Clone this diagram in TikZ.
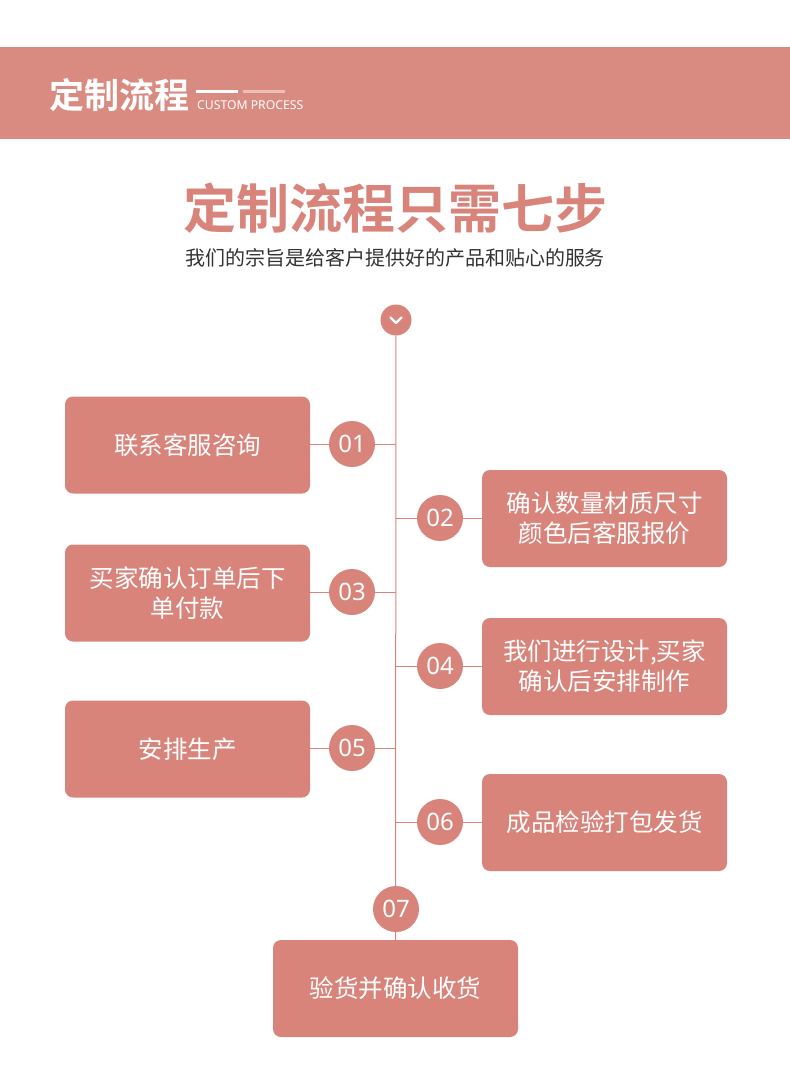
\documentclass[tikz,border=0pt]{standalone}
\usepackage{fontspec}
\newfontfamily\cjk{Noto Sans CJK SC}
\newfontfamily\cjkb{Noto Sans CJK SC}[UprightFont=* Bold]
\newfontfamily\lat{Noto Sans}
\definecolor{band}{HTML}{D98A81}
\definecolor{rose}{HTML}{D8847B}
\definecolor{lite}{HTML}{EDBFB9}
\definecolor{gtext}{HTML}{333333}
\begin{document}
\begin{tikzpicture}[x=1pt,y=-1pt,
  stepbox/.style={fill=rose,rounded corners=8pt,minimum width=245pt,minimum height=97pt,inner sep=0pt,text=white,font=\cjk\fontsize{24.5}{30}\selectfont,align=center},
  numc/.style={circle,fill=rose,minimum size=46pt,inner sep=0pt,text=white,font=\lat\fontsize{24}{24}\selectfont},
  link/.style={draw=rose,line width=1pt}]
\useasboundingbox (0,0) rectangle (790,1088);
\fill[white] (0,0) rectangle (790,1088);
% header band
\fill[band] (0,47) rectangle (790,139);
\node[anchor=west,text=white,font=\cjkb\fontsize{35}{35}\selectfont,inner sep=0pt] (hdr) at (49,95) {定制流程};
\draw[white,line width=3pt] (196,91) -- (238,91);
\draw[lite,line width=3pt] (243,91) -- (285,91);
\node[anchor=west,text=white,font=\lat\fontsize{12.2}{12}\selectfont,inner sep=0pt] (sub) at (197,105) {CUSTOM PROCESS};
% titles
\node[text=rose,font=\cjkb\fontsize{53}{53}\selectfont,inner sep=0pt] (title) at (395,208) {定制流程只需七步};
\node[text=gtext,font=\cjk\fontsize{20}{20}\selectfont,inner sep=0pt] (subt) at (395,258) {我们的宗旨是给客户提供好的产品和贴心的服务};
% top circle
\node[circle,fill=rose,minimum size=31pt,inner sep=0pt] (top) at (396,320) {};
\draw[white,line width=2.2pt,line cap=round,line join=round] (390.5,317.5) -- (396,323) -- (401.5,317.5);
% boxes
\node[stepbox] (b1) at (187.5,445) {联系客服咨询};
\node[stepbox] (b2) at (604.5,518.5) {确认数量材质尺寸\\颜色后客服报价};
\node[stepbox] (b3) at (187.5,593) {买家确认订单后下\\单付款};
\node[stepbox] (b4) at (604.5,666.5) {我们进行设计,买家\\确认后安排制作};
\node[stepbox] (b5) at (187.5,749) {安排生产};
\node[stepbox] (b6) at (604.5,822.5) {成品检验打包发货};
\node[stepbox] (b7) at (395.5,988.5) {验货并确认收货};
% spine
\coordinate (s1) at (396,444);
\coordinate (s2) at (396,518);
\coordinate (s3) at (396,592);
\coordinate (s4) at (396,666);
\coordinate (s5) at (396,748);
\coordinate (s6) at (396,822);
\draw[link] (top) -- (b7.north);
\draw[link] (b1.east |- s1) -- (s1);
\draw[link] (b3.east |- s3) -- (s3);
\draw[link] (b5.east |- s5) -- (s5);
\draw[link] (s2) -- (b2.west |- s2);
\draw[link] (s4) -- (b4.west |- s4);
\draw[link] (s6) -- (b6.west |- s6);
% numbers
\node[numc] (n1) at (352,444) {01};
\node[numc] (n2) at (440,518) {02};
\node[numc] (n3) at (352,592) {03};
\node[numc] (n4) at (440,666) {04};
\node[numc] (n5) at (352,748) {05};
\node[numc] (n6) at (440,822) {06};
\node[numc] (n7) at (396,909) {07};
\end{tikzpicture}
\end{document}
